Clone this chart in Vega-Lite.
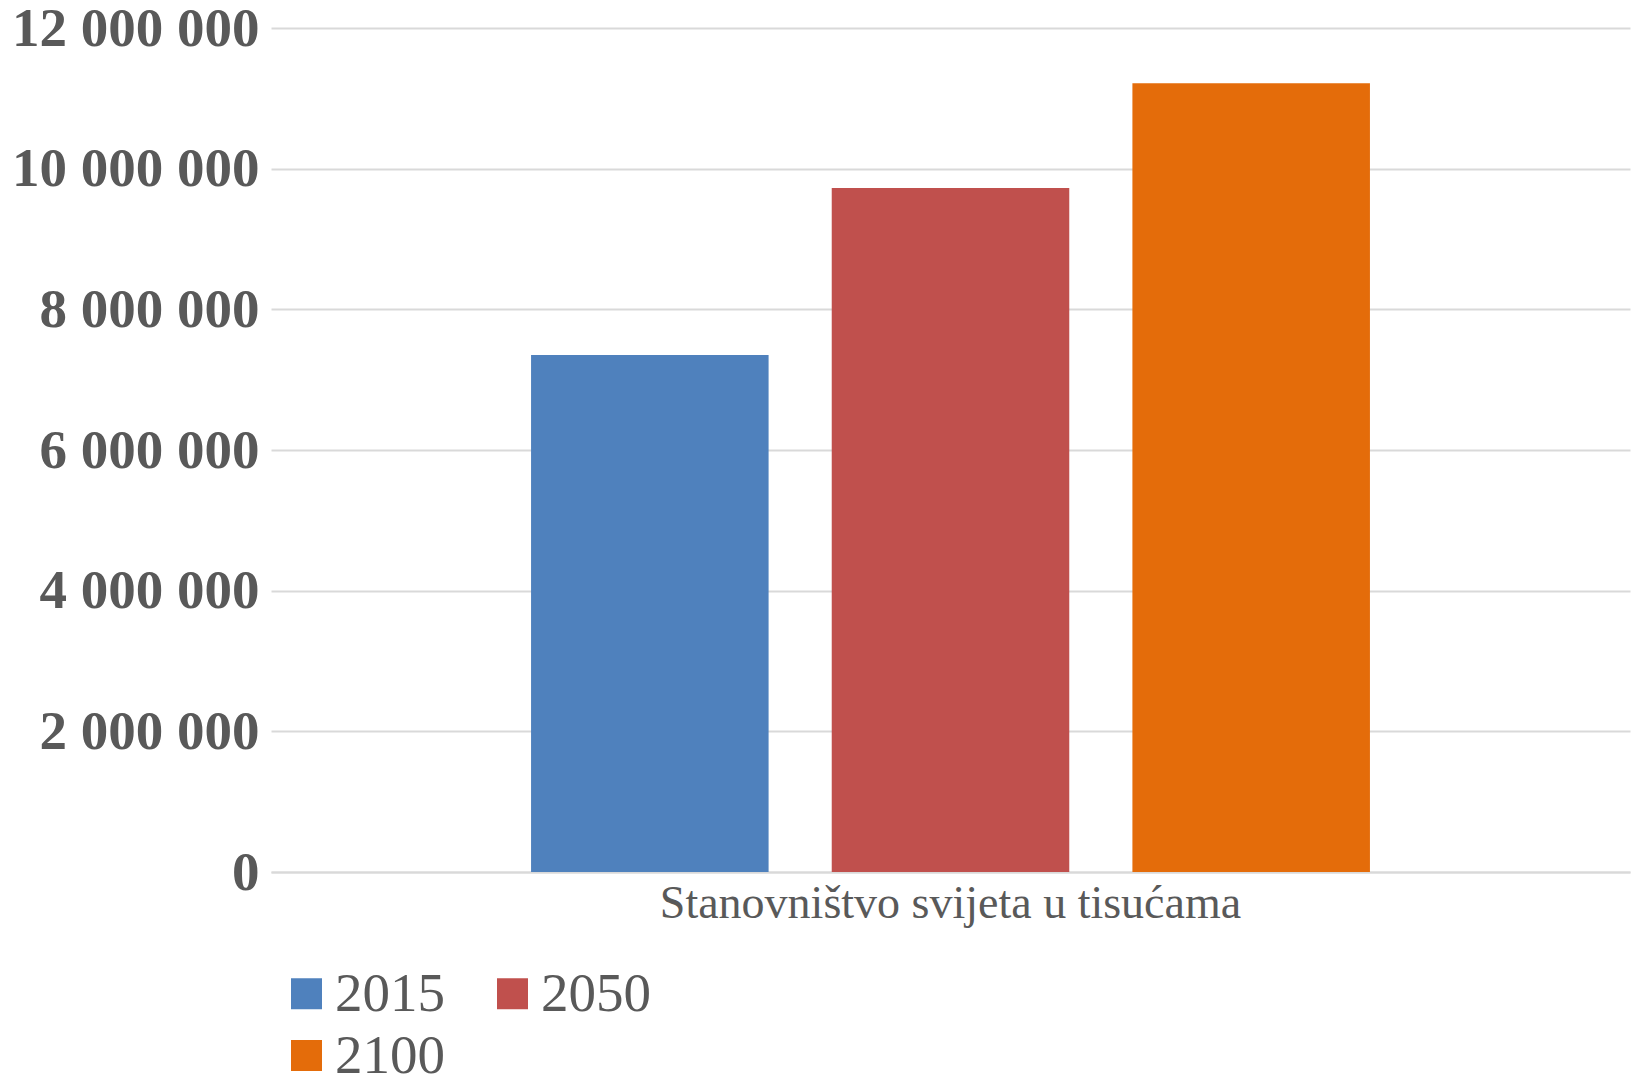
{
  "$schema": "https://vega.github.io/schema/vega-lite/v6.json",
  "width": 1359,
  "height": 844,
  "autosize": {"type": "none"},
  "padding": {"left": 271, "top": 28, "right": 8, "bottom": 202},
  "background": "white",
  "config": {
    "locale": {"number": {"decimal": ",", "thousands": " ", "grouping": [3], "currency": ["", ""]}},
    "view": {"stroke": null},
    "font": "Liberation Serif"
  },
  "data": {
    "values": [
      {"cat": "Stanovništvo svijeta u tisućama", "year": "2015", "value": 7349472},
      {"cat": "Stanovništvo svijeta u tisućama", "year": "2050", "value": 9725148},
      {"cat": "Stanovništvo svijeta u tisućama", "year": "2100", "value": 11213317}
    ]
  },
  "mark": {"type": "bar"},
  "encoding": {
    "x": {
      "field": "cat", "type": "nominal",
      "scale": {"paddingOuter": 0.2533, "paddingInner": 0},
      "axis": {
        "title": null, "labelAngle": 0, "ticks": false, "domain": true,
        "domainColor": "#d9d9d9", "domainWidth": 2, "labelLimit": 0,
        "labelFont": "Liberation Serif", "labelFontSize": 46, "labelColor": "#595959",
        "labelPadding": 9
      }
    },
    "xOffset": {
      "field": "year", "type": "nominal",
      "scale": {"paddingInner": 0.21, "paddingOuter": 0.105}
    },
    "y": {
      "field": "value", "type": "quantitative",
      "scale": {"domain": [0, 12000000], "nice": false},
      "axis": {
        "title": null, "values": [0, 2000000, 4000000, 6000000, 8000000, 10000000, 12000000],
        "format": ",d", "domain": false, "ticks": false, "labelLimit": 0,
        "gridColor": "#d9d9d9", "gridWidth": 2,
        "labelFont": "Liberation Serif", "labelFontSize": 55, "labelFontWeight": "bold",
        "labelColor": "#595959", "labelPadding": 12
      }
    },
    "color": {
      "field": "year", "type": "nominal",
      "scale": {"domain": ["2015", "2050", "2100"], "range": ["#4F81BD", "#C0504D", "#E46C0A"]},
      "legend": {
        "title": null, "orient": "none", "legendX": 8, "legendY": 938,
        "direction": "horizontal", "columns": 2, "columnPadding": 40, "rowPadding": 6,
        "symbolType": "square", "symbolSize": 961, "symbolStrokeWidth": 0,
        "labelFont": "Liberation Serif", "labelFontSize": 55, "labelColor": "#595959",
        "labelOffset": 1, "padding": 0, "labelLimit": 0
      }
    }
  }
}
